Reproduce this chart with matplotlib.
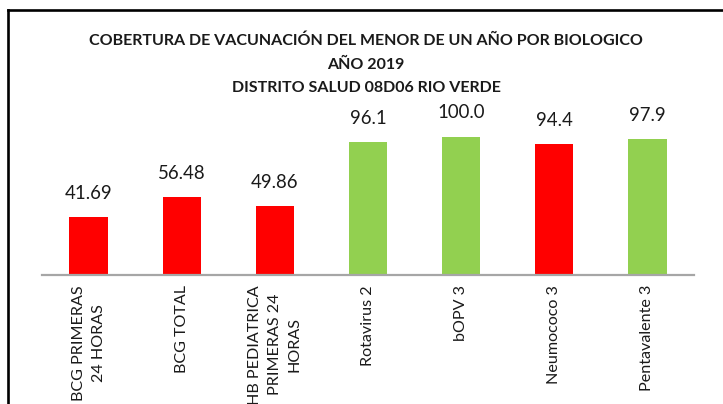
import matplotlib
matplotlib.use("Agg")
import matplotlib.pyplot as plt
from matplotlib.lines import Line2D

categories = ["BCG PRIMERAS\n24 HORAS", "BCG TOTAL", "HB PEDIATRICA\nPRIMERAS 24\nHORAS",
              "Rotavirus 2", "bOPV 3", "Neumococo 3", "Pentavalente 3"]
values = [41.69, 56.48, 49.86, 96.1, 100.0, 94.4, 97.9]
value_labels = ["41.69", "56.48", "49.86", "96.1", "100.0", "94.4", "97.9"]
bar_colors = ["#FF0000", "#FF0000", "#FF0000", "#92D050", "#92D050", "#FF0000", "#92D050"]
title_lines = ["COBERTURA DE VACUNACIÓN DEL MENOR DE UN AÑO POR BIOLOGICO",
               "AÑO 2019",
               "DISTRITO SALUD 08D06 RIO VERDE"]

plt.rcParams['font.family'] = ['Lato', 'DejaVu Sans']

W, H = 723, 404
fig = plt.figure(figsize=(W / 100, H / 100), dpi=100)
fig.patch.set_facecolor("white")

ax = fig.add_axes([42 / W, (H - 274.5) / H, (694 - 42) / W, 165.6 / H])
x = list(range(len(categories)))
ax.bar(x, values, width=0.41, color=bar_colors, zorder=2)
ax.set_xlim(-0.5, len(categories) - 0.5)
ax.set_ylim(0, 120)

for xi, v, lab in zip(x, values, value_labels):
    ax.annotate(lab, (xi, v), xytext=(0, 13), textcoords="offset points",
                ha="center", va="baseline", fontsize=13.4, color="#1a1a1a")

for s in ["top", "right", "left"]:
    ax.spines[s].set_visible(False)
ax.spines["bottom"].set_color("#A6A6A6")
ax.spines["bottom"].set_linewidth(1.6)
ax.set_yticks([])
ax.set_xticks(x)
ax.set_xticklabels(categories, rotation=90, fontsize=11.6, color="#1a1a1a",
                   ha="center", va="top", multialignment="center", linespacing=1.55)
ax.tick_params(axis="x", length=0, pad=7.5)

title_y = [41, 65, 87.5]
for t, yy in zip(title_lines, title_y):
    fig.text(366 / W, 1 - yy / H, t, ha="center", va="center", fontsize=11.5,
             fontweight="bold", color="#1a1a1a")

# chart border (top and left visible)
fig.add_artist(Line2D([8 / W, 8 / W], [0, 1 - 10 / H], transform=fig.transFigure,
                      color="black", linewidth=1.9, solid_capstyle="projecting"))
fig.add_artist(Line2D([8 / W, 1], [1 - 10 / H, 1 - 10 / H], transform=fig.transFigure,
                      color="black", linewidth=1.9, solid_capstyle="projecting"))

fig.savefig("out.png", dpi=100, facecolor="white")
